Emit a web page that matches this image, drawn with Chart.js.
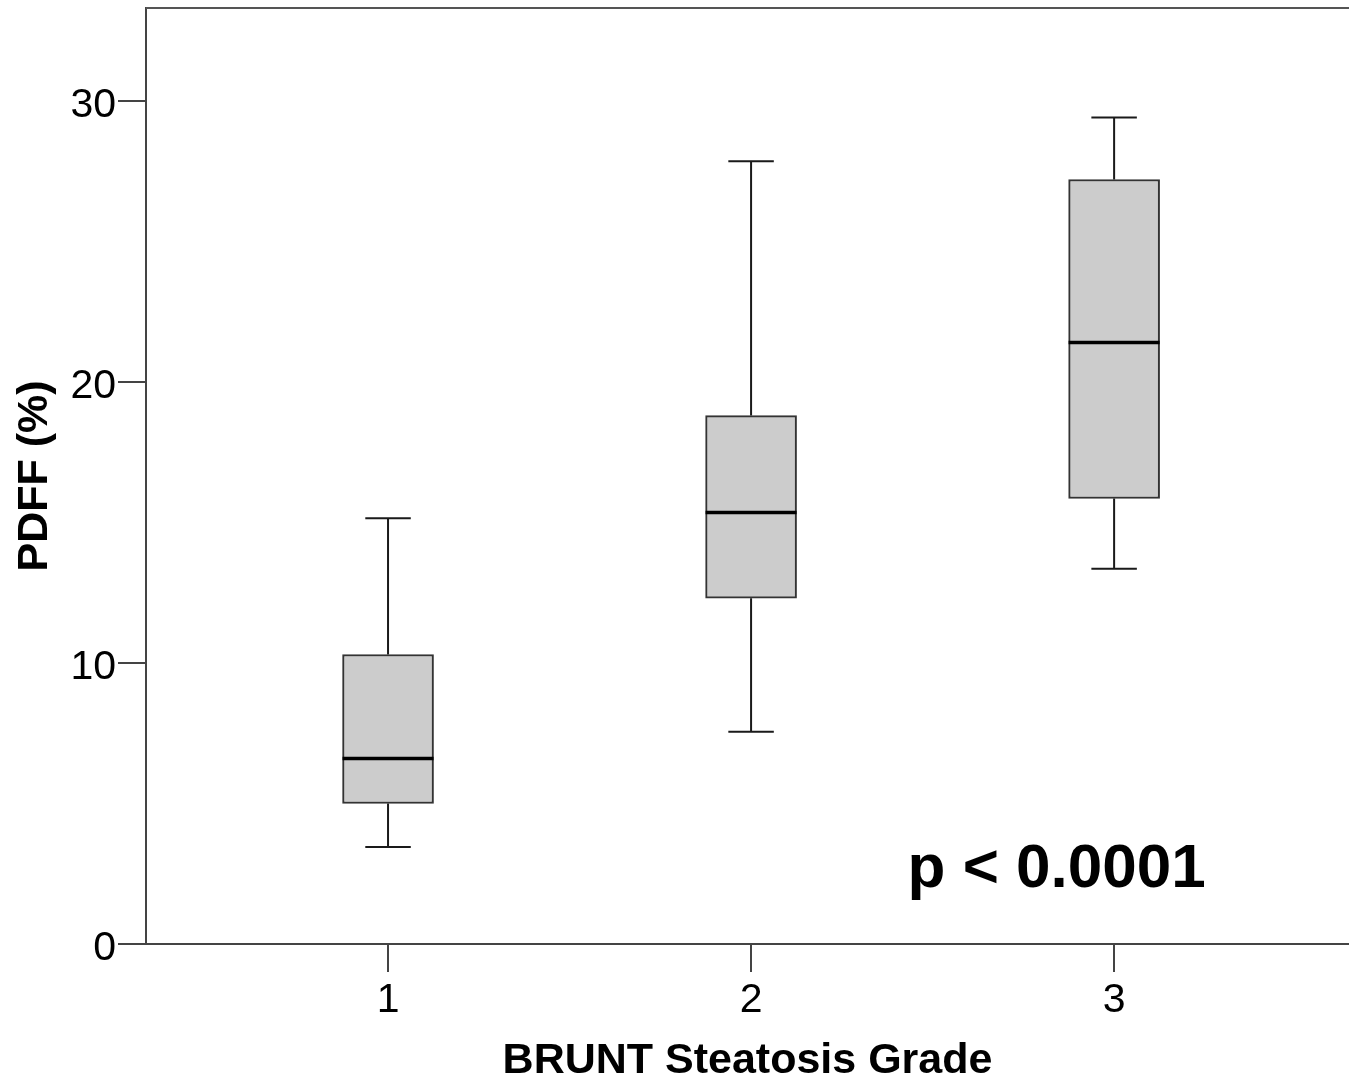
<!DOCTYPE html>
<html>
<head>
<meta charset="utf-8">
<script src="https://cdn.jsdelivr.net/npm/chart.js@4/dist/chart.umd.min.js"></script>
<style>
  html, body { margin: 0; padding: 0; background: #fff; }
  #wrap { width: 1349px; height: 1084px; position: relative; }
</style>
</head>
<body>
<div id="wrap"><canvas id="c"></canvas></div>
<script>
// ---- data ----
const categories = [1, 2, 3];
const whiskerLow  = [3.45, 7.55, 13.35];
const q1          = [5.0, 12.3, 15.85];
const median      = [6.6, 15.35, 21.4];
const q3          = [10.3, 18.8, 27.2];
const whiskerHigh = [15.15, 27.85, 29.4];
const yTickValues = [0, 10, 20, 30];
const xTitle = 'BRUNT Steatosis Grade';
const yTitle = 'PDFF (%)';
const annotation = 'p < 0.0001';

const FONT = '"Liberation Sans", Arial, sans-serif';

const boxPlugin = {
  id: 'boxExtras',
  afterDatasetsDraw(chart) {
    const {ctx, chartArea, scales: {x, y}} = chart;
    const meta = chart.getDatasetMeta(0);
    ctx.save();
    categories.forEach((c, i) => {
      const cx = x.getPixelForValue(c);
      const bw = meta.data[i].width;
      const capW = bw * 0.5;
      ctx.strokeStyle = '#1a1a1a';
      ctx.lineWidth = 2;
      ctx.beginPath();
      ctx.moveTo(cx, y.getPixelForValue(q3[i]));
      ctx.lineTo(cx, y.getPixelForValue(whiskerHigh[i]));
      ctx.moveTo(cx - capW / 2, y.getPixelForValue(whiskerHigh[i]));
      ctx.lineTo(cx + capW / 2, y.getPixelForValue(whiskerHigh[i]));
      ctx.moveTo(cx, y.getPixelForValue(q1[i]));
      ctx.lineTo(cx, y.getPixelForValue(whiskerLow[i]));
      ctx.moveTo(cx - capW / 2, y.getPixelForValue(whiskerLow[i]));
      ctx.lineTo(cx + capW / 2, y.getPixelForValue(whiskerLow[i]));
      ctx.stroke();
      ctx.strokeStyle = '#000';
      ctx.lineWidth = 3.5;
      ctx.beginPath();
      ctx.moveTo(cx - bw / 2, y.getPixelForValue(median[i]));
      ctx.lineTo(cx + bw / 2, y.getPixelForValue(median[i]));
      ctx.stroke();
    });
    ctx.strokeStyle = '#555';
    ctx.lineWidth = 2;
    ctx.beginPath();
    ctx.moveTo(chartArea.left, chartArea.top);
    ctx.lineTo(chartArea.right, chartArea.top);
    ctx.stroke();
    ctx.fillStyle = '#000';
    ctx.font = 'bold 62px ' + FONT;
    ctx.textAlign = 'center';
    ctx.textBaseline = 'alphabetic';
    ctx.fillText(annotation, chartArea.left + (chartArea.right - chartArea.left) * 0.757, chartArea.top + (chartArea.bottom - chartArea.top) * 0.939);
    ctx.restore();
  }
};

new Chart(document.getElementById('c'), {
  type: 'bar',
  data: {
    datasets: [{
      data: categories.map((c, i) => ({x: c, y: [q1[i], q3[i]]})),
      backgroundColor: '#cccccc',
      borderColor: '#333333',
      borderWidth: 2,
      borderSkipped: false,
      barThickness: 91
    }]
  },
  options: {
    responsive: true,
    maintainAspectRatio: false,
    animation: false,
    layout: { padding: { top: 8, right: 0, left: 0, bottom: 0 } },
    plugins: { legend: { display: false }, tooltip: { enabled: false } },
    scales: {
      x: {
        type: 'linear',
        offset: false,
        min: 0.3333,
        max: 3.647,
        afterBuildTicks: s => { s.ticks = categories.map(v => ({value: v})); },
        afterFit: s => { s.height = 140; s.paddingLeft = 0; s.paddingRight = 0; },
        grid: { offset: false, drawOnChartArea: false, drawTicks: true, tickLength: 28, color: '#444', lineWidth: 2 },
        border: { display: true, color: '#444', width: 2 },
        ticks: { color: '#000', font: { family: FONT, size: 41 }, padding: 4, maxRotation: 0 },
        title: { display: true, text: xTitle, color: '#000', font: { family: FONT, size: 43, weight: 'bold', lineHeight: 1 }, padding: { top: 0, bottom: 1 } }
      },
      y: {
        type: 'linear',
        min: 0,
        max: 33.3,
        afterBuildTicks: s => { s.ticks = yTickValues.map(v => ({value: v})); },
        afterFit: s => { s.width = 146; s.paddingTop = 0; s.paddingBottom = 0; },
        grid: { drawOnChartArea: false, drawTicks: true, tickLength: 28, color: '#444', lineWidth: 2 },
        border: { display: true, color: '#444', width: 2 },
        ticks: { color: '#000', font: { family: FONT, size: 41 }, padding: 2, labelOffset: 5 },
        title: { display: true, text: yTitle, color: '#000', font: { family: FONT, size: 43, weight: 'bold', lineHeight: 1 }, padding: { top: 14, bottom: 0 } }
      }
    }
  },
  plugins: [boxPlugin]
});
</script>
</body>
</html>
